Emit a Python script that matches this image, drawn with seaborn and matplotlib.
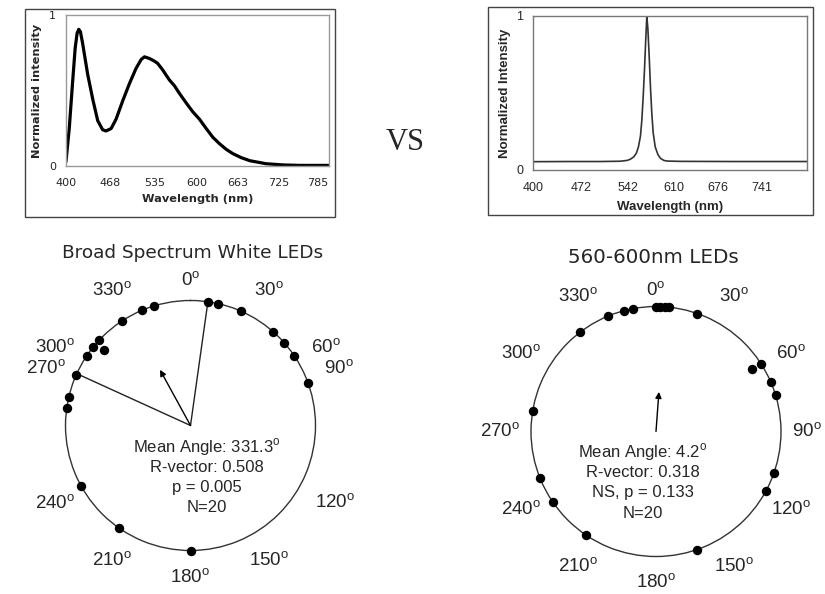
import numpy as np
import matplotlib
matplotlib.use("Agg")
import matplotlib.pyplot as plt
from matplotlib.patches import Rectangle
import seaborn as sns

# broad spectrum white LED emission (top-left panel)
white_nm = [400, 405, 410, 414, 417, 419.5, 422, 425.5, 433, 441, 448.5, 456, 461,
            469, 476.5, 487, 497, 507, 515, 520, 527.5, 535, 540, 548, 558, 566,
            573.5, 585, 594, 604, 614, 624.5, 634.5, 645, 655, 668, 681, 706, 732,
            757, 802]
white_int = [0.03, 0.25, 0.55, 0.78, 0.88, 0.905, 0.89, 0.81, 0.61, 0.44, 0.30, 0.24,
             0.232, 0.248, 0.31, 0.435, 0.546, 0.646, 0.706, 0.723, 0.712, 0.695,
             0.68, 0.635, 0.57, 0.53, 0.48, 0.41, 0.358, 0.31, 0.25, 0.19, 0.148,
             0.11, 0.082, 0.055, 0.035, 0.015, 0.007, 0.004, 0.004]

# narrow band 560-600nm LED emission (top-right panel)
amber_nm = [400, 450, 500, 530, 540, 545, 550, 554, 557, 560, 562, 564, 566, 568,
            569.5, 571, 573, 575, 577, 579, 582, 586, 590, 595, 600, 620, 700, 808]
amber_int = [0.054, 0.055, 0.055, 0.057, 0.062, 0.07, 0.085, 0.11, 0.15, 0.22, 0.32,
             0.47, 0.65, 0.86, 1.0, 0.92, 0.74, 0.53, 0.36, 0.24, 0.15, 0.10, 0.075,
             0.062, 0.058, 0.056, 0.055, 0.055]

white_xticks = [400, 468, 535, 600, 663, 725, 785]
amber_xticks = [400, 472, 542, 610, 676, 741]

# orientation of each animal (degrees); stack > 0 = dot drawn inside the ring
white_angles = [8, 12.6, 24, 41.5, 48.5, 56, 70, 180, 215, 241, 278, 283, 293.8,
                304, 309, 311, 313, 327, 337, 343]
white_stack = [0, 0, 0, 0, 0, 0, 0, 0, 0, 0, 0, 0, 0, 0, 0, 1, 0, 0, 0, 0]
amber_angles = [0, 2, 4, 6, 19.3, 57.5, 57, 66.7, 73, 109.6, 118.6, 160.8, 214.3,
                235.4, 248, 279.3, 322.6, 337.2, 345.2, 349.2]
amber_stack = [0, 0, 0, 0, 0, 0, 1, 0, 0, 0, 0, 0, 0, 0, 0, 0, 0, 0, 0, 0]

white_mean, white_rvec = 331.3, 0.508
amber_mean, amber_rvec = 4.2, 0.318
white_ci = [8, 294.5]

white_stats = ["Mean Angle: 331.3$^{\\rm o}$", "R-vector: 0.508", "p = 0.005", "N=20"]
amber_stats = ["Mean Angle: 4.2$^{\\rm o}$", "R-vector: 0.318", "NS, p = 0.133", "N=20"]

compass = [0, 30, 60, 90, 120, 150, 180, 210, 240, 270, 300, 330]

W, H = 825, 594

sns.set_style("white")
plt.rcParams["font.family"] = ["DejaVu Sans"]
plt.rcParams["mathtext.fontset"] = "custom"
plt.rcParams["mathtext.rm"] = "Liberation Sans"

fig = plt.figure(figsize=(W / 100, H / 100), dpi=100)


def px_rect(x0, y0, x1, y1):
    return [x0 / W, 1 - y1 / H, (x1 - x0) / W, (y1 - y0) / H]


def spectrum(rect, box, nm, inten, xticks, xmax, ylabel, font, fs, lab_fs, lw, color,
             frame, xpad, ypad):
    r = px_rect(*box)
    fig.add_artist(Rectangle((r[0], r[1]), r[2], r[3], transform=fig.transFigure,
                             fill=False, ec="#444444", lw=1))
    ax = fig.add_axes(px_rect(*rect))
    sns.lineplot(x=nm, y=inten, ax=ax, color=color, lw=lw)
    ax.set_xlim(400, xmax)
    ax.set_ylim(0, 1)
    ax.set_xticks(xticks)
    ax.set_yticks([0, 1])
    ax.set_yticklabels(["0", "1"])
    ax.tick_params(axis="x", length=0, pad=9, labelsize=fs)
    ax.tick_params(axis="y", length=0, pad=7, labelsize=fs)
    for lab in ax.get_xticklabels() + ax.get_yticklabels():
        lab.set_family(font)
    ax.set_xlabel("Wavelength (nm)", family=font, fontweight="bold", fontsize=lab_fs,
                  labelpad=xpad)
    ax.set_ylabel(ylabel, family=font, fontweight="bold", fontsize=lab_fs, labelpad=ypad)
    for sp in ax.spines.values():
        sp.set_visible(True)
        sp.set_color(frame)
        sp.set_linewidth(1)
    return ax


def compass_plot(center, radius, angles, stack, mean, rvec, ci, stats, stats_xy,
                 label_fix):
    cx, cy = center
    ax = fig.add_axes(px_rect(cx - radius, cy - radius, cx + radius, cy + radius),
                      projection="polar")
    ax.set_theta_zero_location("N")
    ax.set_theta_direction(-1)
    rr = 1 - 0.08 * np.array(stack)
    sns.scatterplot(x=np.deg2rad(angles), y=rr, ax=ax, color="black", s=46,
                    linewidth=0, clip_on=False, zorder=3)
    ax.set(xlabel="", ylabel="")
    for a in ci:
        ax.plot([np.deg2rad(a)] * 2, [0, 1], color="#222222", lw=1)
    ax.annotate("", xy=(np.deg2rad(mean), rvec), xytext=(0, 0),
                arrowprops=dict(arrowstyle="-|>", color="black", lw=1,
                                mutation_scale=9, shrinkA=0, shrinkB=0))
    ax.set_ylim(0, 1)
    ax.set_xticks([])
    ax.set_yticks([])
    ax.grid(False)
    ax.spines["polar"].set_color("#333333")
    ax.spines["polar"].set_linewidth(1)
    for a in compass:
        pos, dist = label_fix.get(a, (a, 1.25))
        ax.text(np.deg2rad(pos), dist, f"{a}$^{{\\rm o}}$", ha="center", va="center",
                fontsize=13.5, family="Liberation Sans", clip_on=False)
    sx, sy = stats_xy
    for i, line in enumerate(stats):
        ax.text(sx, sy - 0.081 * i, line, transform=ax.transAxes, ha="center",
                va="center", fontsize=12, family="Liberation Sans")
    return ax


spectrum((66, 15, 329, 166), (25, 9, 335, 217), white_nm, white_int, white_xticks,
         802, "Normalized intensity", "DejaVu Sans", 8, 8.2, 2.3, "black", "#999999",
         4, 5)
spectrum((533, 16, 807, 170), (488, 7, 813, 215), amber_nm, amber_int, amber_xticks,
         808, "Normalized Intensity", "Liberation Sans", 9, 9.5, 1.2, "#333333",
         "#777777", 5, 4)

fig.text(405 / W, 1 - 142 / H, "VS", ha="center", va="center", fontsize=22,
         family="Liberation Serif")

compass_plot((190.5, 425.5), 125, white_angles, white_stack, white_mean, white_rvec,
             white_ci, white_stats, (0.564, 0.413),
             {0: (0, 1.16), 90: (69, 1.27), 120: (118, 1.31), 180: (180, 1.22),
              270: (291.5, 1.24)})
compass_plot((656, 431.5), 125, amber_angles, amber_stack, amber_mean, amber_rvec,
             [], amber_stats, (0.448, 0.417),
             {0: (0, 1.13), 90: (90, 1.21), 180: (180, 1.21)})

fig.text(193 / W, 1 - 258 / H, "Broad Spectrum White LEDs", ha="center",
         va="baseline", fontsize=13.3)
fig.text(653 / W, 1 - 263 / H, "560-600nm LEDs", ha="center", va="baseline",
         fontsize=14.3)

fig.savefig("out.png", dpi=100)
